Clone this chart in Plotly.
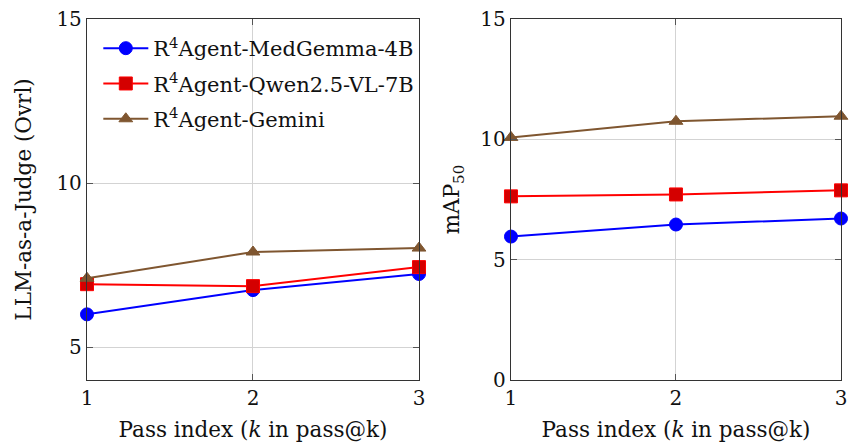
import plotly.graph_objects as go

k = [1, 2, 3]
series_names = ["R<sup>4</sup>Agent-MedGemma-4B", "R<sup>4</sup>Agent-Qwen2.5-VL-7B", "R<sup>4</sup>Agent-Gemini"]
judge_medgemma = [6.0, 6.74, 7.23]
judge_qwen = [6.92, 6.86, 7.44]
judge_gemini = [7.10, 7.90, 8.02]
map_medgemma = [5.96, 6.46, 6.71]
map_qwen = [7.63, 7.71, 7.88]
map_gemini = [10.08, 10.75, 10.96]

colors = ["#0000ff", "#ff0000", "#7f5630"]
fills = ["#0000ff", "#d40000", "#7f5630"]
symbols = ["circle", "square", "triangle-up"]
sizes = [13, 13, 12]

FONT = "DejaVu Serif"
fig = go.Figure()

left = [judge_medgemma, judge_qwen, judge_gemini]
right = [map_medgemma, map_qwen, map_gemini]
for i in range(3):
    fig.add_trace(go.Scatter(x=k, y=left[i], mode="lines+markers", name=series_names[i],
                             legendgroup="g%d" % i,
                             line=dict(color=colors[i], width=2),
                             marker=dict(symbol=symbols[i], size=sizes[i], color=fills[i],
                                         line=dict(color=colors[i], width=1)),
                             xaxis="x", yaxis="y", showlegend=True, cliponaxis=False))
for i in range(3):
    fig.add_trace(go.Scatter(x=k, y=right[i], mode="lines+markers", name=series_names[i],
                             legendgroup="g%d" % i,
                             line=dict(color=colors[i], width=2),
                             marker=dict(symbol=symbols[i], size=sizes[i], color=fills[i],
                                         line=dict(color=colors[i], width=1)),
                             xaxis="x2", yaxis="y2", showlegend=False, cliponaxis=False))

axis_common = dict(showline=True, linecolor="#333333", linewidth=1.3, mirror="allticks",
                   ticks="inside", ticklen=6, tickcolor="#555555",
                   showgrid=True, gridcolor="#d3d3d3", gridwidth=1, zeroline=False,
                   automargin=False,
                   tickfont=dict(family=FONT, size=20, color="#111111"))
title_font = dict(family=FONT, size=21.5, color="#111111")

fig.update_layout(
    width=849, height=443,
    margin=dict(l=87, r=8, t=19, b=63),
    paper_bgcolor="white", plot_bgcolor="white",
    font=dict(family=FONT, color="#111111"),
    xaxis=dict(domain=[0, 0.4403], range=[1, 3], tickvals=k, anchor="y",
               title=dict(text="Pass index (<i>k</i> in pass@k)", font=title_font, standoff=12),
               **axis_common),
    yaxis=dict(range=[4, 15], tickvals=[5, 10, 15], anchor="x",
               title=dict(text="LLM-as-a-Judge (Ovrl)", font=title_font, standoff=18),
               **axis_common),
    xaxis2=dict(domain=[0.5623, 1], range=[1, 3], tickvals=k, anchor="y2",
                title=dict(text="Pass index (<i>k</i> in pass@k)", font=title_font, standoff=12),
                **axis_common),
    yaxis2=dict(range=[0, 15], tickvals=[0, 5, 10, 15], anchor="x2",
                title=dict(text="mAP<sub>50</sub>", font=title_font, standoff=14),
                **axis_common),
    legend=dict(x=0.015, y=0.975, xanchor="left", yanchor="top", bgcolor="rgba(0,0,0,0)",
                font=dict(family=FONT, size=21, color="#111111"), itemwidth=45,
                tracegroupgap=5),
)

fig.write_html("out.html", config={"displayModeBar": False},
               post_script="document.body.style.margin='0';")
